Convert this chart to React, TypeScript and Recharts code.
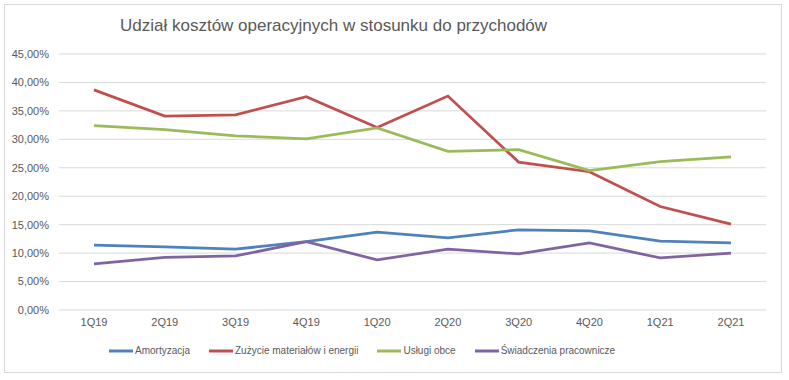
import React from 'react';
import { LineChart, Line, XAxis, YAxis, CartesianGrid, Legend } from 'recharts';

const quarters = ['1Q19', '2Q19', '3Q19', '4Q19', '1Q20', '2Q20', '3Q20', '4Q20', '1Q21', '2Q21'];
const amortyzacja = [11.4, 11.1, 10.7, 12.0, 13.7, 12.7, 14.1, 13.9, 12.1, 11.8];
const zuzycie = [38.7, 34.1, 34.3, 37.5, 32.1, 37.6, 26.0, 24.3, 18.2, 15.1];
const uslugi = [32.4, 31.7, 30.6, 30.1, 32.0, 27.9, 28.2, 24.5, 26.1, 26.9];
const swiadczenia = [8.1, 9.25, 9.5, 12.0, 8.8, 10.7, 9.85, 11.8, 9.15, 10.0];
const yTicks = [0, 5, 10, 15, 20, 25, 30, 35, 40, 45];

const seriesNames = ['Amortyzacja', 'Zużycie materiałów i energii', 'Usługi obce', 'Świadczenia pracownicze'];
const seriesKeys = ['a', 'z', 'u', 's'];
const seriesColors = ['#4F81BD', '#C0504D', '#9BBB59', '#8064A2'];

const data = quarters.map((q, i) => ({
  q,
  a: amortyzacja[i],
  z: zuzycie[i],
  u: uslugi[i],
  s: swiadczenia[i],
}));

const FONT = '"Liberation Sans", Arial, sans-serif';
const TEXT = '#595959';

const fmt = (v: number) => v.toFixed(2).replace('.', ',') + '%';

const LegendContent = () => (
  <div style={{ display: 'flex', justifyContent: 'flex-start', alignItems: 'center', paddingLeft: 109, fontFamily: FONT, fontSize: 10, color: TEXT }}>
    {seriesNames.map((n, i) => (
      <div key={n} style={{ display: 'flex', alignItems: 'center', marginRight: i < 3 ? 19 : 0 }}>
        <svg width={24} height={4} style={{ marginRight: 2 }}>
          <line x1={0} y1={2} x2={24} y2={2} stroke={seriesColors[i]} strokeWidth={3} />
        </svg>
        <span>{n}</span>
      </div>
    ))}
  </div>
);

export default function App() {
  return (
    <div style={{ position: 'absolute', left: 0, top: 0, width: 789, height: 380, background: '#fff' }}>
      <div style={{ position: 'absolute', left: 4, top: 4, width: 776, height: 367, border: '1px solid #D9D9D9' }} />
      <div style={{ position: 'absolute', left: 120, top: 16, fontFamily: FONT, fontSize: 17, color: TEXT, whiteSpace: 'nowrap' }}>
        Udział kosztów operacyjnych w stosunku do przychodów
      </div>
      <div style={{ position: 'absolute', left: 0, top: 0 }}>
        <LineChart width={789} height={380} data={data} margin={{ top: 54, right: 23, left: 0, bottom: 40 }}>
          <CartesianGrid vertical={false} stroke="#D9D9D9" />
          <XAxis
            dataKey="q"
            axisLine={false}
            tickLine={false}
            padding={{ left: 35, right: 35 }}
            tick={{ fill: TEXT, fontSize: 11, fontFamily: FONT }}
            height={30}
          />
          <YAxis
            width={59}
            domain={[0, 45]}
            ticks={yTicks}
            axisLine={false}
            tickLine={false}
            tickMargin={4}
            tickFormatter={fmt}
            tick={{ fill: TEXT, fontSize: 11, fontFamily: FONT }}
          />
          <Legend
            verticalAlign="middle"
            content={<LegendContent />}
            wrapperStyle={{ position: 'absolute', top: 345, left: 0, width: 789 }}
          />
          {seriesKeys.map((k, i) => (
            <Line
              key={k}
              type="linear"
              dataKey={k}
              name={seriesNames[i]}
              stroke={seriesColors[i]}
              strokeWidth={2.75}
              dot={false}
              activeDot={false}
              isAnimationActive={false}
            />
          ))}
        </LineChart>
      </div>
    </div>
  );
}
